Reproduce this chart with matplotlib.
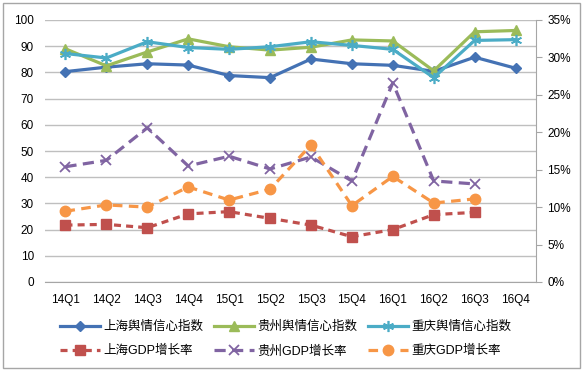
import matplotlib
matplotlib.use("Agg")
import matplotlib.pyplot as plt
from matplotlib.patches import Rectangle
from matplotlib.ticker import PercentFormatter

plt.rcParams['font.family'] = ['Liberation Sans', 'Noto Sans CJK SC', 'DejaVu Sans']

quarters = ['14Q1', '14Q2', '14Q3', '14Q4', '15Q1', '15Q2', '15Q3', '15Q4', '16Q1', '16Q2', '16Q3', '16Q4']
sh_index = [80.3, 82.0, 83.3, 82.8, 78.8, 78.0, 85.1, 83.3, 82.7, 80.4, 85.8, 81.6]
gz_index = [89.0, 82.5, 87.8, 92.8, 89.8, 88.5, 89.6, 92.4, 92.0, 80.6, 95.5, 96.0]
cq_index = [87.2, 85.5, 91.7, 89.5, 88.8, 89.8, 91.7, 90.3, 88.8, 78.0, 92.2, 92.5]
sh_gdp = [7.6, 7.7, 7.25, 9.1, 9.4, 8.5, 7.6, 6.05, 7.0, 9.0, 9.3]
gz_gdp = [15.4, 16.25, 20.6, 15.5, 16.8, 15.1, 16.7, 13.5, 26.6, 13.5, 13.1]
cq_gdp = [9.45, 10.3, 10.0, 12.7, 10.95, 12.4, 18.3, 10.2, 14.1, 10.55, 11.1]

c_blue = '#4472B4'
c_green = '#9BBB59'
c_teal = '#4BACC6'
c_red = '#C0504D'
c_purple = '#8064A2'
c_orange = '#F79646'

fig = plt.figure(figsize=(5.83, 3.75), dpi=100)
fig.patches.append(Rectangle((3/583, 7/375), 577/583, 365/375, transform=fig.transFigure,
                             fill=False, edgecolor='#A6A6A6', linewidth=1.0))

ax = fig.add_axes([45/583, (375-282)/375, (536-45)/583, (282-20)/375])
ax2 = ax.twinx()

x = list(range(len(quarters)))
xg = list(range(len(sh_gdp)))

h1, = ax.plot(x, sh_index, color=c_blue, lw=2.3, marker='D', ms=5.5, label='上海舆情信心指数')
h2, = ax.plot(x, gz_index, color=c_green, lw=2.3, marker='^', ms=7, label='贵州舆情信心指数')
h3, = ax.plot(x, cq_index, color=c_teal, lw=2.3, marker=(6, 2, 0), ms=8, mew=1.2, label='重庆舆情信心指数')

h4, = ax2.plot(xg, sh_gdp, color=c_red, lw=2.3, ls=(0, (2.2, 1.6)), marker='s', ms=7, label='上海GDP增长率')
h5, = ax2.plot(xg, gz_gdp, color=c_purple, lw=2.3, ls=(0, (3.5, 2)), marker='x', ms=7, mew=1.3, label='贵州GDP增长率')
h6, = ax2.plot(xg, cq_gdp, color=c_orange, lw=2.3, ls=(0, (3, 2)), marker='o', ms=7.5, label='重庆GDP增长率')

ax.set_xlim(-0.5, 11.5)
ax.set_ylim(0, 100)
ax.set_yticks(range(0, 101, 10))
ax2.set_ylim(0, 35)
ax2.set_yticks(range(0, 36, 5))
ax2.yaxis.set_major_formatter(PercentFormatter(decimals=0))

ax.set_xticks(x)
ax.set_xticklabels(quarters)
ax.grid(axis='y', color='#BFBFBF', lw=1.0)
ax.set_axisbelow(True)

for a in (ax, ax2):
    for s in ('top', 'left'):
        a.spines[s].set_visible(False)
ax.spines['right'].set_visible(False)
ax2.spines['bottom'].set_visible(False)
ax.spines['bottom'].set_color('#A6A6A6')
ax2.spines['right'].set_color('#A6A6A6')

ax.tick_params(axis='y', length=0, labelsize=8.5, pad=8, colors='#000000')
ax.tick_params(axis='x', length=0, labelsize=8.5, pad=9)
ax2.tick_params(axis='y', length=4, labelsize=8.5, pad=4, color='#A6A6A6', labelcolor='#000000')

leg = fig.legend([h1, h4, h2, h5, h3, h6],
                 [h.get_label() for h in [h1, h4, h2, h5, h3, h6]],
                 ncol=3, loc='center', bbox_to_anchor=(0.49, 0.095), frameon=False,
                 fontsize=9, handlelength=3.2, columnspacing=0.8, handletextpad=0.3,
                 labelspacing=0.95)

fig.savefig('out.png', dpi=100)
